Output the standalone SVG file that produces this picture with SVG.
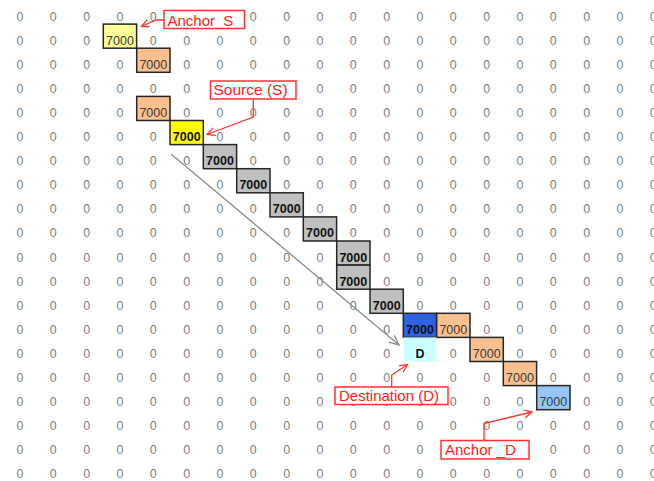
<svg xmlns="http://www.w3.org/2000/svg" width="654" height="481" viewBox="0 0 654 481">
<style>
.z text{font-family:"Liberation Sans",Arial,sans-serif;font-size:12.5px;fill:#7f7f7f;text-anchor:middle}
.cell rect{stroke:#262626;stroke-width:1.5}
.cell text{font-family:"Liberation Sans",Arial,sans-serif;font-size:12.5px;text-anchor:middle}
.n{fill:#3a3a3a}
.b{fill:#111;font-weight:bold}
.co rect{fill:#fff;stroke:#ff3333;stroke-width:1.5}
.co text{font-family:"Liberation Sans",Arial,sans-serif;font-size:15px;fill:#ff2020}
.red{fill:none;stroke:#ff3333;stroke-width:1.3}
.gray{fill:none;stroke:#8c8c8c;stroke-width:1.3}
</style>
<defs>
<marker id="ar" markerUnits="userSpaceOnUse" markerWidth="12" markerHeight="12" refX="8" refY="4" orient="auto"><path d="M0,0 L8,4 L0,8" fill="none" stroke="#ff3333" stroke-width="1.3"/></marker>
<marker id="ag" markerUnits="userSpaceOnUse" markerWidth="14" markerHeight="12" refX="10" refY="4.5" orient="auto"><path d="M0,0 L10,4.5 L0,9" fill="none" stroke="#8c8c8c" stroke-width="1.3"/></marker>
</defs>
<rect width="654" height="481" fill="#fff"/>
<g id="grid-zeros" class="z">
<g transform="translate(0,20.5)"><text x="20">0</text><text x="53.3">0</text><text x="86.7">0</text><text x="120">0</text><text x="153.3">0</text><text x="253.3">0</text><text x="286.7">0</text><text x="320">0</text><text x="353.3">0</text><text x="386.7">0</text><text x="420">0</text><text x="453.3">0</text><text x="486.7">0</text><text x="520">0</text><text x="553.3">0</text><text x="586.7">0</text><text x="620">0</text><text x="653.3">0</text></g>
<g transform="translate(0,44.6)"><text x="20">0</text><text x="53.3">0</text><text x="86.7">0</text><text x="153.3">0</text><text x="186.7">0</text><text x="220">0</text><text x="253.3">0</text><text x="286.7">0</text><text x="320">0</text><text x="353.3">0</text><text x="386.7">0</text><text x="420">0</text><text x="453.3">0</text><text x="486.7">0</text><text x="520">0</text><text x="553.3">0</text><text x="586.7">0</text><text x="620">0</text><text x="653.3">0</text></g>
<g transform="translate(0,68.7)"><text x="20">0</text><text x="53.3">0</text><text x="86.7">0</text><text x="120">0</text><text x="186.7">0</text><text x="220">0</text><text x="253.3">0</text><text x="286.7">0</text><text x="320">0</text><text x="353.3">0</text><text x="386.7">0</text><text x="420">0</text><text x="453.3">0</text><text x="486.7">0</text><text x="520">0</text><text x="553.3">0</text><text x="586.7">0</text><text x="620">0</text><text x="653.3">0</text></g>
<g transform="translate(0,92.8)"><text x="20">0</text><text x="53.3">0</text><text x="86.7">0</text><text x="120">0</text><text x="153.3">0</text><text x="186.7">0</text><text x="320">0</text><text x="353.3">0</text><text x="386.7">0</text><text x="420">0</text><text x="453.3">0</text><text x="486.7">0</text><text x="520">0</text><text x="553.3">0</text><text x="586.7">0</text><text x="620">0</text><text x="653.3">0</text></g>
<g transform="translate(0,116.9)"><text x="20">0</text><text x="53.3">0</text><text x="86.7">0</text><text x="120">0</text><text x="186.7">0</text><text x="220">0</text><text x="253.3">0</text><text x="286.7">0</text><text x="320">0</text><text x="353.3">0</text><text x="386.7">0</text><text x="420">0</text><text x="453.3">0</text><text x="486.7">0</text><text x="520">0</text><text x="553.3">0</text><text x="586.7">0</text><text x="620">0</text><text x="653.3">0</text></g>
<g transform="translate(0,141)"><text x="20">0</text><text x="53.3">0</text><text x="86.7">0</text><text x="120">0</text><text x="153.3">0</text><text x="220">0</text><text x="253.3">0</text><text x="286.7">0</text><text x="320">0</text><text x="353.3">0</text><text x="386.7">0</text><text x="420">0</text><text x="453.3">0</text><text x="486.7">0</text><text x="520">0</text><text x="553.3">0</text><text x="586.7">0</text><text x="620">0</text><text x="653.3">0</text></g>
<g transform="translate(0,165.1)"><text x="20">0</text><text x="53.3">0</text><text x="86.7">0</text><text x="120">0</text><text x="153.3">0</text><text x="186.7">0</text><text x="253.3">0</text><text x="286.7">0</text><text x="320">0</text><text x="353.3">0</text><text x="386.7">0</text><text x="420">0</text><text x="453.3">0</text><text x="486.7">0</text><text x="520">0</text><text x="553.3">0</text><text x="586.7">0</text><text x="620">0</text><text x="653.3">0</text></g>
<g transform="translate(0,189.2)"><text x="20">0</text><text x="53.3">0</text><text x="86.7">0</text><text x="120">0</text><text x="153.3">0</text><text x="186.7">0</text><text x="220">0</text><text x="286.7">0</text><text x="320">0</text><text x="353.3">0</text><text x="386.7">0</text><text x="420">0</text><text x="453.3">0</text><text x="486.7">0</text><text x="520">0</text><text x="553.3">0</text><text x="586.7">0</text><text x="620">0</text><text x="653.3">0</text></g>
<g transform="translate(0,213.3)"><text x="20">0</text><text x="53.3">0</text><text x="86.7">0</text><text x="120">0</text><text x="153.3">0</text><text x="186.7">0</text><text x="220">0</text><text x="253.3">0</text><text x="320">0</text><text x="353.3">0</text><text x="386.7">0</text><text x="420">0</text><text x="453.3">0</text><text x="486.7">0</text><text x="520">0</text><text x="553.3">0</text><text x="586.7">0</text><text x="620">0</text><text x="653.3">0</text></g>
<g transform="translate(0,237.4)"><text x="20">0</text><text x="53.3">0</text><text x="86.7">0</text><text x="120">0</text><text x="153.3">0</text><text x="186.7">0</text><text x="220">0</text><text x="253.3">0</text><text x="286.7">0</text><text x="353.3">0</text><text x="386.7">0</text><text x="420">0</text><text x="453.3">0</text><text x="486.7">0</text><text x="520">0</text><text x="553.3">0</text><text x="586.7">0</text><text x="620">0</text><text x="653.3">0</text></g>
<g transform="translate(0,261.5)"><text x="20">0</text><text x="53.3">0</text><text x="86.7">0</text><text x="120">0</text><text x="153.3">0</text><text x="186.7">0</text><text x="220">0</text><text x="253.3">0</text><text x="286.7">0</text><text x="320">0</text><text x="386.7">0</text><text x="420">0</text><text x="453.3">0</text><text x="486.7">0</text><text x="520">0</text><text x="553.3">0</text><text x="586.7">0</text><text x="620">0</text><text x="653.3">0</text></g>
<g transform="translate(0,285.6)"><text x="20">0</text><text x="53.3">0</text><text x="86.7">0</text><text x="120">0</text><text x="153.3">0</text><text x="186.7">0</text><text x="220">0</text><text x="253.3">0</text><text x="286.7">0</text><text x="320">0</text><text x="386.7">0</text><text x="420">0</text><text x="453.3">0</text><text x="486.7">0</text><text x="520">0</text><text x="553.3">0</text><text x="586.7">0</text><text x="620">0</text><text x="653.3">0</text></g>
<g transform="translate(0,309.7)"><text x="20">0</text><text x="53.3">0</text><text x="86.7">0</text><text x="120">0</text><text x="153.3">0</text><text x="186.7">0</text><text x="220">0</text><text x="253.3">0</text><text x="286.7">0</text><text x="320">0</text><text x="353.3">0</text><text x="420">0</text><text x="453.3">0</text><text x="486.7">0</text><text x="520">0</text><text x="553.3">0</text><text x="586.7">0</text><text x="620">0</text><text x="653.3">0</text></g>
<g transform="translate(0,333.8)"><text x="20">0</text><text x="53.3">0</text><text x="86.7">0</text><text x="120">0</text><text x="153.3">0</text><text x="186.7">0</text><text x="220">0</text><text x="253.3">0</text><text x="286.7">0</text><text x="320">0</text><text x="353.3">0</text><text x="386.7">0</text><text x="486.7">0</text><text x="520">0</text><text x="553.3">0</text><text x="586.7">0</text><text x="620">0</text><text x="653.3">0</text></g>
<g transform="translate(0,357.9)"><text x="20">0</text><text x="53.3">0</text><text x="86.7">0</text><text x="120">0</text><text x="153.3">0</text><text x="186.7">0</text><text x="220">0</text><text x="253.3">0</text><text x="286.7">0</text><text x="320">0</text><text x="353.3">0</text><text x="386.7">0</text><text x="453.3">0</text><text x="520">0</text><text x="553.3">0</text><text x="586.7">0</text><text x="620">0</text><text x="653.3">0</text></g>
<g transform="translate(0,382)"><text x="20">0</text><text x="53.3">0</text><text x="86.7">0</text><text x="120">0</text><text x="153.3">0</text><text x="186.7">0</text><text x="220">0</text><text x="253.3">0</text><text x="286.7">0</text><text x="320">0</text><text x="353.3">0</text><text x="386.7">0</text><text x="420">0</text><text x="453.3">0</text><text x="486.7">0</text><text x="553.3">0</text><text x="586.7">0</text><text x="620">0</text><text x="653.3">0</text></g>
<g transform="translate(0,406.1)"><text x="20">0</text><text x="53.3">0</text><text x="86.7">0</text><text x="120">0</text><text x="153.3">0</text><text x="186.7">0</text><text x="220">0</text><text x="253.3">0</text><text x="286.7">0</text><text x="320">0</text><text x="353.3">0</text><text x="386.7">0</text><text x="420">0</text><text x="453.3">0</text><text x="486.7">0</text><text x="520">0</text><text x="586.7">0</text><text x="620">0</text><text x="653.3">0</text></g>
<g transform="translate(0,430.2)"><text x="20">0</text><text x="53.3">0</text><text x="86.7">0</text><text x="120">0</text><text x="153.3">0</text><text x="186.7">0</text><text x="220">0</text><text x="253.3">0</text><text x="286.7">0</text><text x="320">0</text><text x="353.3">0</text><text x="386.7">0</text><text x="420">0</text><text x="453.3">0</text><text x="486.7">0</text><text x="520">0</text><text x="553.3">0</text><text x="586.7">0</text><text x="620">0</text><text x="653.3">0</text></g>
<g transform="translate(0,454.3)"><text x="20">0</text><text x="53.3">0</text><text x="86.7">0</text><text x="120">0</text><text x="153.3">0</text><text x="186.7">0</text><text x="220">0</text><text x="253.3">0</text><text x="286.7">0</text><text x="320">0</text><text x="353.3">0</text><text x="386.7">0</text><text x="420">0</text><text x="553.3">0</text><text x="586.7">0</text><text x="620">0</text><text x="653.3">0</text></g>
<g transform="translate(0,478.4)"><text x="20">0</text><text x="53.3">0</text><text x="86.7">0</text><text x="120">0</text><text x="153.3">0</text><text x="186.7">0</text><text x="220">0</text><text x="253.3">0</text><text x="286.7">0</text><text x="320">0</text><text x="353.3">0</text><text x="386.7">0</text><text x="420">0</text><text x="453.3">0</text><text x="486.7">0</text><text x="520">0</text><text x="553.3">0</text><text x="586.7">0</text><text x="620">0</text><text x="653.3">0</text></g>
</g>
<g id="cell-anchor-s" class="cell"><rect x="103.3" y="24.1" width="33.3" height="24.1" fill="#ffff99"/><text class="n" x="120" y="44.6">7000</text></g>
<g id="cell-r2c4" class="cell"><rect x="136.7" y="48.2" width="33.3" height="24.1" fill="#fac090"/><text class="n" x="153.3" y="68.7">7000</text></g>
<g id="cell-r4c4" class="cell"><rect x="136.7" y="96.4" width="33.3" height="24.1" fill="#fac090"/><text class="n" x="153.3" y="116.9">7000</text></g>
<g id="cell-source" class="cell"><rect x="170" y="120.5" width="33.3" height="24.1" fill="#ffff00"/><text class="b" x="186.7" y="141">7000</text></g>
<g id="cell-r6c6" class="cell"><rect x="203.3" y="144.6" width="33.3" height="24.1" fill="#c0c0c0"/><text class="b" x="220" y="165.1">7000</text></g>
<g id="cell-r7c7" class="cell"><rect x="236.7" y="168.7" width="33.3" height="24.1" fill="#c0c0c0"/><text class="b" x="253.3" y="189.2">7000</text></g>
<g id="cell-r8c8" class="cell"><rect x="270" y="192.8" width="33.3" height="24.1" fill="#c0c0c0"/><text class="b" x="286.7" y="213.3">7000</text></g>
<g id="cell-r9c9" class="cell"><rect x="303.3" y="216.9" width="33.3" height="24.1" fill="#c0c0c0"/><text class="b" x="320" y="237.4">7000</text></g>
<g id="cell-r10c10" class="cell"><rect x="336.7" y="241" width="33.3" height="24.1" fill="#c0c0c0"/><text class="b" x="353.3" y="261.5">7000</text></g>
<g id="cell-r11c10" class="cell"><rect x="336.7" y="265.1" width="33.3" height="24.1" fill="#c0c0c0"/><text class="b" x="353.3" y="285.6">7000</text></g>
<g id="cell-r12c11" class="cell"><rect x="370" y="289.2" width="33.3" height="24.1" fill="#c0c0c0"/><text class="b" x="386.7" y="309.7">7000</text></g>
<g id="cell-r13c12" class="cell"><rect x="403.3" y="313.3" width="33.3" height="24.1" fill="#2f60e6"/><text class="b" x="420" y="333.8">7000</text></g>
<g id="cell-r13c13" class="cell"><rect x="436.7" y="313.3" width="33.3" height="24.1" fill="#fac090"/><text class="n" x="453.3" y="333.8">7000</text></g>
<g id="cell-destination" class="cell"><rect x="403.3" y="337.4" width="33.3" height="24.1" fill="#ccffff" stroke="none" style="stroke:none"/><text class="b" x="420" y="357.9">D</text></g>
<g id="cell-r14c14" class="cell"><rect x="470" y="337.4" width="33.3" height="24.1" fill="#fac090"/><text class="n" x="486.7" y="357.9">7000</text></g>
<g id="cell-r15c15" class="cell"><rect x="503.3" y="361.5" width="33.3" height="24.1" fill="#fac090"/><text class="n" x="520" y="382">7000</text></g>
<g id="cell-anchor-d" class="cell"><rect x="536.7" y="385.6" width="33.3" height="24.1" fill="#95c6f5"/><text class="n" x="553.3" y="406.1">7000</text></g>
<g id="callout-anchor-s" class="co"><rect x="164" y="10.5" width="80.5" height="18"/><text x="167.5" y="25.5">Anchor_S</text></g>
<g id="callout-source" class="co"><rect x="210.5" y="81" width="85.5" height="18"/><text x="213.5" y="95.2" style="font-size:15.5px">Source (S)</text></g>
<g id="callout-destination" class="co"><rect x="335" y="387" width="113" height="17.5"/><text x="339" y="400.8">Destination (D)</text></g>
<g id="callout-anchor-d" class="co"><rect x="441" y="440.5" width="88" height="18.5"/><text x="445" y="454.5">Anchor _D</text></g>
<g id="connectors">
<polyline class="red" points="164,20 156,20 141.5,26.5" marker-end="url(#ar)"/>
<polyline class="red" points="253.3,99 253.3,117 207,134.5" marker-end="url(#ar)"/>
<polyline class="red" points="391.7,387 391.7,375 407.5,364.5" marker-end="url(#ar)"/>
<polyline class="red" points="484,440.5 484,423.5 532,412" marker-end="url(#ar)"/>
<line class="gray" x1="171" y1="154" x2="399" y2="345" marker-end="url(#ag)"/>
</g>
</svg>
